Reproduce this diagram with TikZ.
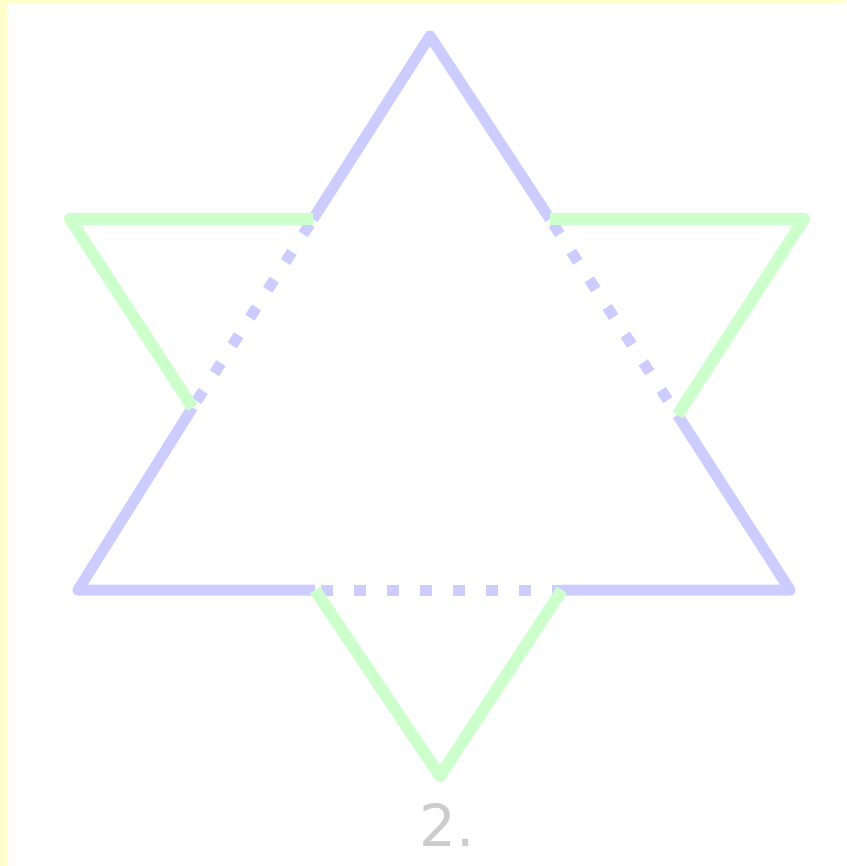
\documentclass[tikz,border=0pt]{standalone}
\usepackage{fontspec}
\setmainfont{DejaVu Sans}
\definecolor{starblue}{HTML}{CCCCFF}
\definecolor{stargreen}{HTML}{CCFFCC}
\definecolor{edgeyellow}{HTML}{FFFFCC}
\definecolor{labelgray}{HTML}{CCCCCC}
\tikzset{
  blueline/.style={draw=starblue, line width=11pt, line join=round, line cap=butt},
  bluedots/.style={draw=starblue, line width=11pt, line cap=butt, dash pattern=on 12pt off 21pt, dash phase=-6pt},
  greenline/.style={draw=stargreen, line width=12pt, line join=round, line cap=butt},
}
\begin{document}
\begin{tikzpicture}[x=1pt,y=-1pt]
\useasboundingbox (0,0) rectangle (846,866);
\fill[white] (0,0) rectangle (846,866);
\fill[edgeyellow] (0,0) rectangle (846,3);
\fill[edgeyellow] (0,0) rectangle (7,866);
% blue triangle
\coordinate (A) at (430,36);
\coordinate (B) at (78,590);
\coordinate (C) at (790,590);
% green triangle
\coordinate (D) at (70,219);
\coordinate (E) at (804,219);
\coordinate (F) at (440,776);
% crossings
\coordinate (P1) at (313,219);
\coordinate (Q1) at (550,219);
\coordinate (P2) at (192.5,407.5);
\coordinate (Q2) at (677.5,415);
\coordinate (P3) at (315,590);
\coordinate (Q3) at (562,590);
% blue solid parts
\draw[blueline] (P1) -- (A) -- (Q1);
\draw[blueline] (Q2) -- (C) -- (Q3);
\draw[blueline] (P3) -- (B) -- (P2);
% blue dotted parts
\draw[bluedots] (P1) -- (P2);
\draw[bluedots] (Q1) -- (Q2);
\draw[bluedots] (P3) -- (Q3);
% green parts
\draw[greenline] (P1) -- (D) -- (P2);
\draw[greenline] (Q1) -- (E) -- (Q2);
\draw[greenline] (P3) -- (F) -- (Q3);
\node[text=labelgray, font=\fontsize{58}{58}\selectfont, inner sep=0pt, anchor=base] (label) at (447,846) {2.};
\end{tikzpicture}
\end{document}
